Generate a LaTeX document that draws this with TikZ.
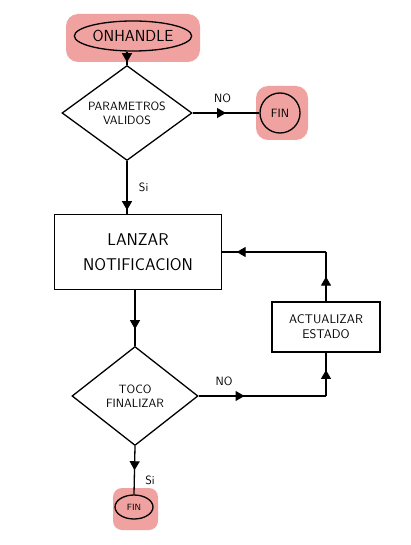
\documentclass[tikz,border=0pt]{standalone}
\usetikzlibrary{shapes.geometric,arrows.meta,decorations.markings,positioning}
\definecolor{hilite}{RGB}{240,162,160}
\tikzset{
  ln/.style={line width=1.3pt},
  midarrow/.style={ln,postaction={decorate},decoration={markings,mark=at position #1 with {\arrow{Triangle[width=10pt,length=9pt]}}}},
  decision/.style={diamond,draw,ln,minimum width=130pt,minimum height=95pt,inner sep=0pt,aspect=1.37,align=center,font=\sffamily\fontsize{12}{14}\selectfont},
  process/.style={rectangle,draw,ln,align=center},
  lbl/.style={font=\sffamily\fontsize{12}{14}\selectfont},
  glow/.style={fill=hilite,rounded corners=12pt}
}
\begin{document}
\begin{tikzpicture}[x=1pt,y=-1pt]
  \useasboundingbox (0,0) rectangle (410,545);
  % highlights behind start and end nodes
  \fill[glow] (66,14) rectangle (200,62);
  \fill[glow] (256,86) rectangle (308,140);
  \fill[glow,rounded corners=9pt] (113,488) rectangle (158,530);

  \node[ellipse,draw,ln,minimum width=116pt,minimum height=30pt,inner sep=1pt,font=\sffamily\fontsize{16}{18}\selectfont] (start) at (133,36) {ONHANDLE};
  \node[decision] (check) at (127,113) {PARAMETROS\\VALIDOS};
  \node[circle,draw,ln,minimum size=40pt,inner sep=0pt,font=\sffamily\fontsize{12}{14}\selectfont] (end1) at (280,113) {FIN};
  \node[process,minimum width=167pt,minimum height=75pt,font=\sffamily\fontsize{17}{25}\selectfont] (notify) at (138,252) {LANZAR\\NOTIFICACION};
  \node[decision,minimum width=126pt,minimum height=99pt] (finish) at (135,396) {TOCO\\FINALIZAR};
  \node[process,minimum width=108pt,minimum height=50pt,font=\sffamily\fontsize{12.5}{15}\selectfont] (update) at (326,327) {ACTUALIZAR\\ESTADO};
  \node[ellipse,draw,ln,minimum width=38pt,minimum height=24pt,inner sep=0pt,font=\sffamily\fontsize{9}{10}\selectfont] (end2) at (134,507) {FIN};

  \coordinate (c1) at (update.south |- finish.east);
  \coordinate (c2) at (update.north |- notify.east);

  \draw[midarrow=0.8] (start.south -| check.north) -- (check.north);
  \draw[midarrow=0.5] (check.east) -- node[lbl,above=6pt,pos=0.45]{NO} (end1.west);
  \draw[midarrow=0.93] (check.south) -- node[lbl,right=8pt,pos=0.5]{Si} (check.south |- notify.north);
  \draw[midarrow=0.7] (notify.south -| finish.north) -- (finish.north);
  \draw[midarrow=0.36] (finish.east) -- node[lbl,above=6pt,pos=0.2]{NO} (c1);
  \draw[midarrow=0.6] (c1) -- (update.south);
  \draw[midarrow=0.5] (update.north) -- (c2);
  \draw[midarrow=0.86] (c2) -- (notify.east);
  \draw[midarrow=0.5] (finish.south) -- node[lbl,right=7pt,pos=0.7]{Si} (end2.north);
\end{tikzpicture}
\end{document}
